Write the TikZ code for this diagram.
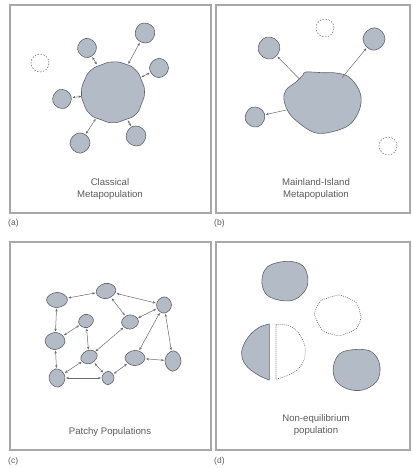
\documentclass[tikz,border=0pt]{standalone}
\usepackage{fontspec}
\setmainfont{Liberation Sans}
\usetikzlibrary{arrows.meta,shapes.geometric}
\definecolor{blobfill}{HTML}{B3BCC6}
\definecolor{blobline}{HTML}{5E636A}
\definecolor{framec}{HTML}{A8A8A8}
\definecolor{txtc}{HTML}{5A5A5A}
\definecolor{arrc}{HTML}{6A6A6A}
\newcommand\blobat[6]{\draw[blobsty,shift={(#1)},rotate=#4,xscale=#2,yscale=#3] plot[smooth cycle,tension=#5] coordinates {#6};}
\newcommand\smallblob[4]{\blobat{#1}{#2}{#3}{#4}{0.6}{(0:1) (44:0.97) (92:1.02) (137:0.98) (182:1) (226:0.97) (272:1.02) (316:0.99)}}
\begin{document}
\begin{tikzpicture}[x=1pt,y=-1pt,
  mframe/.style={draw=framec,line width=1.1pt},
  blobsty/.style={draw=blobline,fill=blobfill,line width=0.6pt},
  mhub/.style={circle,inner sep=0pt},
  mspot/.style={ellipse,inner sep=0pt},
  mghost/.style={draw=arrc,dash pattern=on 1.6pt off 1.4pt,line width=0.5pt},
  mdot/.style={draw=arrc,dash pattern=on 0.8pt off 1.2pt,line width=0.7pt},
  biarrow/.style={draw=arrc,line width=0.5pt,{Stealth[length=3pt,width=2.4pt]}-{Stealth[length=3pt,width=2.4pt]},shorten <=0.8pt,shorten >=0.8pt},
  onearrow/.style={draw=arrc,line width=0.5pt,-{Stealth[length=3pt,width=2.4pt]},shorten >=0.8pt},
  mcaption/.style={text=txtc,font=\fontsize{9.6}{11.5}\selectfont,align=center},
  mlabel/.style={text=txtc,font=\fontsize{8.5}{10}\selectfont,anchor=west,inner sep=0pt}]
\useasboundingbox (0,0) rectangle (412,468);
% frames
\draw[mframe] (10,5) rectangle (211,213);
\draw[mframe] (216,5) rectangle (410,213);
\draw[mframe] (10,242) rectangle (211,450);
\draw[mframe] (216,242) rectangle (410,450);
\node[mlabel] (la) at (8,223) {(a)};
\node[mlabel] (lb) at (214,223) {(b)};
\node[mlabel] (lc) at (8,461) {(c)};
\node[mlabel] (ld) at (214,461) {(d)};
% ---------- panel (a)
\node[mhub,minimum size=62pt] (a0) at (113,92) {};
\node[mhub,minimum size=19pt] (a1) at (87,48) {};
\node[mhub,minimum size=20pt] (a2) at (145,33) {};
\node[mhub,minimum size=19pt] (a3) at (159,68) {};
\node[mhub,minimum size=19pt] (a4) at (62,99) {};
\node[mhub,minimum size=20pt] (a5) at (80,143) {};
\node[mhub,minimum size=20pt] (a6) at (136,136) {};
\node[circle,mghost,minimum size=18pt] (ad) at (40,63) {};
\blobat{a0}{31.5}{31}{0}{0.9}{(0:1) (22:0.98) (45:1.02) (68:0.97) (90:0.99) (112:0.97) (135:1.02) (158:1.0) (180:1.0) (202:0.98) (225:0.99) (248:0.95) (270:0.97) (292:0.98) (315:1.01) (338:0.98)}
\smallblob{a1}{9.5}{9.5}{10}
\smallblob{a2}{10}{10}{30}
\smallblob{a3}{9.5}{9.5}{0}
\smallblob{a4}{9.5}{9.5}{20}
\smallblob{a5}{10}{10}{5}
\smallblob{a6}{10}{10}{25}
\foreach \n in {a1,a2,a3,a4,a5,a6} \draw[biarrow] (\n) -- (a0);
\node[mcaption] (ta) at (110,189) {Classical\\Metapopulation};
% ---------- panel (b)
\node[ellipse,inner sep=0pt,minimum width=74pt,minimum height=58pt] (b0) at (322,102) {};
\node[mhub,minimum size=22pt] (b1) at (269,48) {};
\node[mhub,minimum size=22pt] (b2) at (374,39) {};
\node[mhub,minimum size=20pt] (b3) at (255,117) {};
\node[circle,mghost,minimum size=18pt] (bd1) at (325,28) {};
\node[circle,mghost,minimum size=18pt] (bd2) at (388,146) {};
\draw[blobsty] plot[smooth cycle,tension=0.6] coordinates {(306,72) (322.7,72.7) (336,73) (349,77) (359,90) (361,103) (356,117) (346,127) (326,133) (313,132) (299,123) (289,113) (284,100) (286,90) (296,82) (303,75)};
\smallblob{b1}{11}{11}{15}
\smallblob{b2}{11}{11}{0}
\smallblob{b3}{10}{10}{20}
\draw[onearrow] (b0) -- (b1);
\draw[onearrow] (b0) -- (b2);
\draw[onearrow] (b0) -- (b3);
\node[mcaption] (tb) at (316,189) {Mainland-Island\\Metapopulation};
% ---------- panel (c)
\node[mspot,minimum width=21pt,minimum height=15pt] (c1) at (57,300) {};
\node[mspot,minimum width=20pt,minimum height=15pt] (c2) at (106,291) {};
\node[mspot,minimum width=15pt,minimum height=16pt] (c3) at (164,305) {};
\node[mspot,minimum width=15pt,minimum height=13pt] (c4) at (86,321) {};
\node[mspot,minimum width=17pt,minimum height=14pt] (c5) at (130,322) {};
\node[mspot,minimum width=20pt,minimum height=17pt] (c6) at (55,341) {};
\node[mspot,minimum width=17pt,minimum height=13pt] (c7) at (89,357) {};
\node[mspot,minimum width=20pt,minimum height=15pt] (c8) at (135,358) {};
\node[mspot,minimum width=16pt,minimum height=20pt] (c9) at (173,361) {};
\node[mspot,minimum width=16pt,minimum height=18pt] (c10) at (57,378) {};
\node[mspot,minimum width=12pt,minimum height=13pt] (c11) at (108,378) {};
\smallblob{c1}{10.5}{7.5}{0}
\smallblob{c2}{10}{7.5}{10}
\smallblob{c3}{7.5}{8}{0}
\smallblob{c4}{7.5}{6.5}{15}
\smallblob{c5}{8.5}{7}{5}
\smallblob{c6}{10}{8.5}{0}
\smallblob{c7}{8.5}{6.5}{20}
\smallblob{c8}{10}{7.5}{0}
\smallblob{c9}{8}{10}{0}
\smallblob{c10}{8}{9}{10}
\smallblob{c11}{6}{6.5}{0}
\foreach \u/\v in {c1/c2,c1/c6,c6/c10,c6/c4,c4/c7,c7/c10,c7/c11,c10/c11,c7/c5,c5/c2,c2/c3,c5/c3,c3/c8,c3/c9,c8/c9,c11/c8}
  \draw[biarrow] (\u) -- (\v);
\node[mcaption] (tc) at (110,432) {Patchy Populations};
% ---------- panel (d)
\draw[blobsty] plot[smooth cycle,tension=0.6] coordinates {(272.7,264) (289.3,261.3) (302.7,265.7) (307.7,277.3) (306,289) (296,299) (282.7,300.7) (267.7,295.7) (262,284) (264.3,270.7)};
\draw[mdot] plot[smooth cycle,tension=0.3] coordinates {(321,300.7) (339.3,295) (356,302.3) (361,317.3) (356,329) (339.3,335.7) (322.7,330.7) (314.3,314)};
\draw[blobsty] (269.3,324) -- (269.3,380) plot[smooth,tension=0.6] coordinates {(269.3,380) (259.3,375.7) (247.7,367.3) (242,357.3) (242.7,347.3) (249.3,335.7) (259.3,327.3) (269.3,324)} -- cycle;
\draw[mdot] (276,324.7) -- (276,379) plot[smooth,tension=0.6] coordinates {(276,379) (284.3,376.7) (296,370.7) (303.7,360.7) (305,347.3) (299.3,334) (289.3,325.7) (276,324.7)};
\draw[blobsty] plot[smooth cycle,tension=0.6] coordinates {(339.3,354) (352.7,349.7) (369.3,350.7) (377.7,359) (380,370.7) (376,382.3) (362.7,390) (347.7,389) (336,380.7) (333.3,367.3)};
\node[mcaption] (td) at (316,425) {Non-equilibrium\\population};
\end{tikzpicture}
\end{document}
